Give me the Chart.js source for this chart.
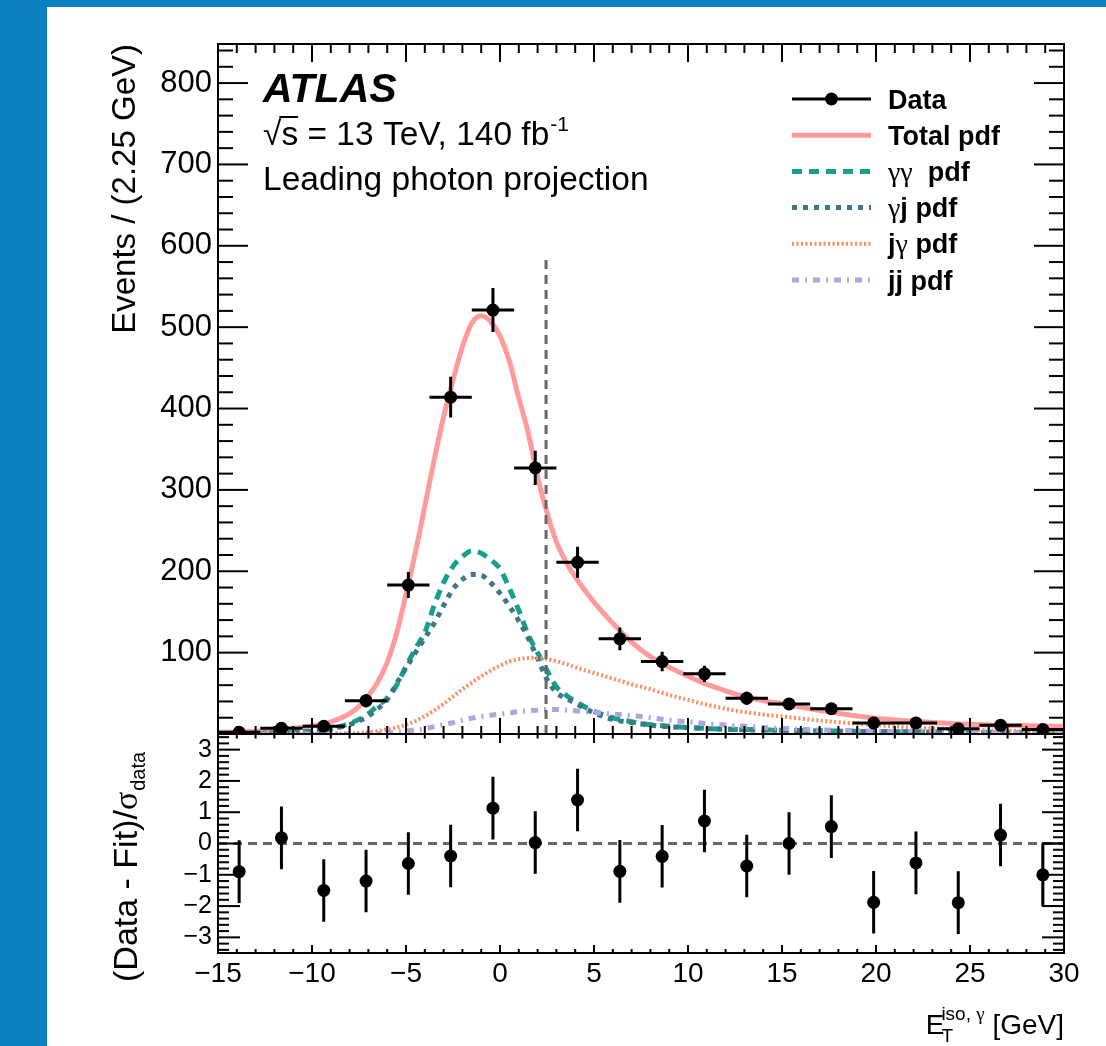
<!DOCTYPE html>
<html>
<head>
<meta charset="utf-8">
<script src="https://cdn.jsdelivr.net/npm/chart.js@4.4.0/dist/chart.umd.min.js"></script>
<style>
  html, body { margin: 0; padding: 0; background: #fff; }
  canvas { display: block; }
</style>
</head>
<body>
<canvas id="chart" width="1106" height="1046"></canvas>
<script>
// Binned data: leading photon isolation, 2.25 GeV bins from -15 to 30
const binCenters = [-13.875, -11.625, -9.375, -7.125, -4.875, -2.625, -0.375, 1.875, 4.125, 6.375,
                    8.625, 10.875, 13.125, 15.375, 17.625, 19.875, 22.125, 24.375, 26.625, 28.875];
const binHalfWidth = 1.125;
const dataEvents = [2, 7, 9.5, 41, 183, 414, 521, 327, 211, 117, 89, 74, 44, 37, 31, 13.6, 13.6, 6.6, 10.7, 5.4];
const dataErrors = [2, 3, 4, 8, 16, 25, 27, 21, 19, 14, 12, 10, 8, 7, 7, 5, 5, 3, 4, 3];

// Pull plot (Data - Fit)/sigma
const pullValues = [-0.9, 0.18, -1.5, -1.2, -0.64, -0.4, 1.13, 0.03, 1.39, -0.89,
                    -0.41, 0.72, -0.72, 0.0, 0.54, -1.88, -0.62, -1.89, 0.27, -1.0];
const pullErrors = [1, 1, 1, 1, 1, 1, 1, 1, 1, 1, 1, 1, 1, 1, 1, 1, 1, 1, 1, 1];

// Fit pdf curves sampled along E_T^iso
const curveX = [-15, -14, -13, -12, -11, -10, -9, -8,
                -7.5, -7, -6.5, -6, -5.5, -5, -4.5, -4, -3.5, -3, -2.5, -2,
                -1.5, -1, -0.5, 0, 0.5, 1, 1.5, 2, 2.5, 3, 3.5, 4,
                5, 6, 7, 8, 9, 10, 11, 12, 13, 14, 15, 16, 17, 18, 19, 20,
                22, 24, 26, 28, 30];
const totalPdf = [2, 2.5, 3.5, 5, 7, 10, 15, 25,
                  34, 47, 64, 88, 124, 172, 223, 280, 337, 390, 435, 476,
                  505, 514, 507, 489, 458, 413, 370, 316, 272, 236, 212, 193,
                  162, 136, 113, 95, 82, 71, 61, 53, 46, 41, 37, 33, 29, 25.5, 22, 19.5,
                  15.8, 13, 11.2, 10.1, 9.4];
const ggPdf = [0.3, 0.5, 0.8, 1.3, 2, 3.5, 6.5, 13,
               18, 25, 35, 44, 60, 83, 105, 125, 158, 186, 206, 218,
               225, 222, 214, 203, 179, 152, 122, 100, 78, 58, 48, 40,
               28, 20, 15, 11.5, 9.5, 8, 6.8, 6, 5.5, 5, 4.6, 4.2, 3.9, 3.6, 3.3, 3,
               2.6, 2.3, 2, 1.8, 1.6];
const gjPdf = [0.3, 0.5, 0.8, 1.3, 2, 3.3, 6, 11.5,
               16, 22, 31, 42, 62, 81, 100, 118, 136, 158, 178, 190,
               196, 195, 186, 173, 157, 139, 118, 93, 67, 51, 44, 38,
               26, 18, 14, 11, 9, 7.8, 6.6, 5.8, 5.3, 4.9, 4.5, 4.1, 3.8, 3.5, 3.2, 2.9,
               2.5, 2.2, 1.9, 1.7, 1.5];
const jgPdf = [0, 0, 0, 0, 0.1, 0.2, 0.4, 0.8,
               1.3, 2, 3.5, 5.5, 8, 11.5, 16, 22, 29, 37, 46, 55,
               63, 71, 78, 84, 89, 92, 93.5, 93.5, 92, 89.5, 86, 82,
               75, 68, 61, 55, 48, 42, 36, 31, 27, 24, 21.5, 19, 16.5, 14.5, 12.5, 11,
               8, 6, 4.5, 3.6, 3];
const jjPdf = [0, 0, 0, 0, 0, 0, 0.05, 0.1,
               0.2, 0.4, 0.7, 1.2, 2.2, 3.5, 5, 6.5, 9, 11.5, 14, 17,
               19.5, 21.5, 23, 24.5, 26, 27.5, 28.5, 29.3, 30, 30, 29.5, 28.5,
               26.5, 24.5, 22.5, 20, 17, 15, 12.8, 11, 9.5, 8, 6.8, 5.8, 5, 4.5, 4, 3.5,
               2.8, 2.2, 1.8, 1.5, 1.2];

const isoCut = 2.45;
const isoCutTop = 590;

// Axis ticks
const xTickValues = [-15, -10, -5, 0, 5, 10, 15, 20, 25, 30];
const mainTickValues = [100, 200, 300, 400, 500, 600, 700, 800];
const pullTickValues = [-3, -2, -1, 0, 1, 2, 3];
const xMin = -15, xMax = 30, mainMax = 848, pullMin = -3.5, pullMax = 3.5;

const FONT = "'Liberation Sans', Arial, Helvetica, sans-serif";
const SERIF = "'Liberation Serif', 'Times New Roman', serif";

const styleTotal = { color: '#ff9b9b', width: 5, dash: [] };
const styleGG = { color: '#14a08b', width: 5, dash: [10, 7] };
const styleGJ = { color: '#3d7788', width: 5, dash: [5, 6] };
const styleJG = { color: '#ff8a5a', width: 4, dash: [2, 2.5] };
const styleJJ = { color: '#b3a2de', width: 5, dash: [7, 6, 2, 6] };
const styleCut = { color: '#666666', width: 3, dash: [9, 6] };

function toPoints(xs, ys) {
  return xs.map((x, i) => ({ x: x, y: ys[i] }));
}

// vertical error bars as separate segments, broken by null points
function verticalBars(xs, ys, es) {
  const out = [];
  xs.forEach((x, i) => {
    out.push({ x: x, y: ys[i] - es[i] }, { x: x, y: ys[i] + es[i] }, { x: x, y: null });
  });
  return out;
}

function horizontalBars(xs, ys, hw) {
  const out = [];
  xs.forEach((x, i) => {
    out.push({ x: x - hw, y: ys[i] }, { x: x + hw, y: ys[i] }, { x: x, y: null });
  });
  return out;
}

function curve(data, st, axis) {
  return {
    data: data,
    yAxisID: axis || 'y',
    borderColor: st.color,
    borderWidth: st.width,
    borderDash: st.dash,
    borderCapStyle: 'butt',
    pointRadius: 0,
    fill: false,
    cubicInterpolationMode: 'monotone',
    spanGaps: false
  };
}

function bars(data, axis) {
  return {
    data: data,
    yAxisID: axis,
    borderColor: '#000',
    borderWidth: 3,
    borderCapStyle: 'butt',
    pointRadius: 0,
    tension: 0,
    spanGaps: false
  };
}

function markers(data, axis) {
  return {
    data: data,
    yAxisID: axis,
    showLine: false,
    pointRadius: 6.5,
    pointHoverRadius: 6.5,
    pointBorderWidth: 0,
    pointBackgroundColor: '#000',
    borderColor: '#000'
  };
}

// listed back to front
const datasets = [
  curve(toPoints(curveX, totalPdf), styleTotal),
  curve(toPoints(curveX, ggPdf), styleGG),
  curve(toPoints(curveX, gjPdf), styleGJ),
  curve(toPoints(curveX, jgPdf), styleJG),
  curve(toPoints(curveX, jjPdf), styleJJ),
  Object.assign(curve([{ x: isoCut, y: 0 }, { x: isoCut, y: isoCutTop }], styleCut), { cubicInterpolationMode: 'default', tension: 0 }),
  bars(verticalBars(binCenters, dataEvents, dataErrors), 'y'),
  bars(horizontalBars(binCenters, dataEvents, binHalfWidth), 'y'),
  markers(toPoints(binCenters, dataEvents), 'y'),
  Object.assign(curve([{ x: xMin, y: 0 }, { x: xMax, y: 0 }], styleCut, 'yr'), { tension: 0 }),
  Object.assign(bars([{ x: xMax, y: 0 }, { x: 28.875, y: 0 }, { x: 28.875, y: -2 }, { x: xMax, y: -2 }], 'yr'), { borderWidth: 2 }),
  bars(verticalBars(binCenters, pullValues, pullErrors), 'yr'),
  markers(toPoints(binCenters, pullValues), 'yr')
];
datasets.forEach((d, i) => { d.order = datasets.length - i; });

function fmt(v) {
  return v < 0 ? '\u2212' + Math.abs(v) : String(v);
}

// text runs: [text, font, dy]
function drawRuns(ctx, x, y, runs) {
  let cx = x;
  runs.forEach(r => {
    ctx.font = r[1];
    ctx.fillText(r[0], cx, y + (r[2] || 0));
    cx += ctx.measureText(r[0]).width;
  });
  return cx;
}

const legendBold = 'bold 27px ' + FONT;
const legendGreek = '28px ' + SERIF;
const legendRows = [
  { style: null, runs: [['Data', legendBold]] },
  { style: styleTotal, runs: [['Total pdf', legendBold]] },
  { style: styleGG, runs: [['\u03b3\u03b3', legendGreek], ['  pdf', legendBold]] },
  { style: styleGJ, runs: [['\u03b3', legendGreek], ['j pdf', legendBold]] },
  { style: styleJG, runs: [['j', legendBold], ['\u03b3', legendGreek], [' pdf', legendBold]] },
  { style: styleJJ, runs: [['jj pdf', legendBold]] }
];

function line(ctx, x1, y1, x2, y2) {
  ctx.beginPath();
  ctx.moveTo(x1, y1);
  ctx.lineTo(x2, y2);
  ctx.stroke();
}

const decor = {
  id: 'decor',
  beforeDraw(chart) {
    const c = chart.ctx;
    c.save();
    c.fillStyle = '#0d80c1';
    c.fillRect(0, 0, chart.width, chart.height);
    c.fillStyle = '#ffffff';
    c.fillRect(47, 7, chart.width - 47, chart.height - 7);
    c.restore();
  },
  afterDraw(chart) {
    const c = chart.ctx;
    const xs = chart.scales.x, ym = chart.scales.y, yr = chart.scales.yr;
    const L = xs.left, R = xs.right;
    c.save();
    c.strokeStyle = '#000';
    c.fillStyle = '#000';
    c.lineWidth = 2;
    c.setLineDash([]);

    // frames
    c.strokeRect(L, ym.top, R - L, ym.bottom - ym.top);
    c.strokeRect(L, yr.top, R - L, yr.bottom - yr.top);

    // x ticks, minor every 1 GeV
    for (let v = xMin; v <= xMax; v++) {
      const p = xs.getPixelForValue(v);
      const major = v % 5 === 0;
      line(c, p, ym.top, p, ym.top + (major ? 18 : 9));
      line(c, p, ym.bottom, p, ym.bottom - (major ? 16 : 8));
      line(c, p, yr.top, p, yr.top + (major ? 9 : 4.5));
      line(c, p, yr.bottom, p, yr.bottom - (major ? 8 : 4));
    }
    // main y ticks, minor every 20
    for (let v = 0; v <= mainMax; v += 20) {
      const p = ym.getPixelForValue(v);
      const len = v % 100 === 0 ? 30 : 15;
      line(c, L, p, L + len, p);
      line(c, R, p, R - len, p);
    }
    // pull y ticks, minor every 0.2
    for (let k = -17; k <= 17; k++) {
      const p = yr.getPixelForValue(k / 5);
      const len = k % 5 === 0 ? 22 : 11;
      line(c, L, p, L + len, p);
      line(c, R, p, R - len, p);
    }

    // ATLAS label block
    const tx = L + 45;
    c.textAlign = 'left';
    c.textBaseline = 'alphabetic';
    c.font = 'italic bold 41px ' + FONT;
    c.fillText('ATLAS', tx, ym.top + 57.5);
    const f33 = '33.5px ' + FONT;
    c.font = f33;
    const sqrtW = c.measureText('\u221a').width;
    const sW = c.measureText('s').width;
    const end = drawRuns(c, tx, ym.top + 101, [['\u221as = 13 TeV, 140 fb', f33]]);
    drawRuns(c, end + 1, ym.top + 101, [['-1', '21px ' + FONT, -14]]);
    line(c, tx + sqrtW - 2, ym.top + 73, tx + sqrtW + sW, ym.top + 73);
    c.font = f33;
    c.fillText('Leading photon projection', tx, ym.top + 145.5);

    // legend
    const lx1 = R - 272, lx2 = R - 193, ltx = R - 176;
    legendRows.forEach((row, i) => {
      const y = ym.top + 55 + i * 36.2;
      if (row.style) {
        c.strokeStyle = row.style.color;
        c.lineWidth = row.style.width;
        c.setLineDash(row.style.dash);
        c.lineCap = 'butt';
        line(c, lx1, y, lx2, y);
        c.setLineDash([]);
      } else {
        c.strokeStyle = '#000';
        c.lineWidth = 3;
        line(c, lx1, y, lx2, y);
        c.beginPath();
        c.arc((lx1 + lx2) / 2, y, 6.5, 0, Math.PI * 2);
        c.fill();
      }
      c.fillStyle = '#000';
      drawRuns(c, ltx, y + 9.5, row.runs);
    });

    // y axis titles
    c.save();
    c.translate(135, ym.top);
    c.rotate(-Math.PI / 2);
    c.textAlign = 'right';
    c.font = '33px ' + FONT;
    c.fillText('Events / (2.25 GeV)', 0, 0);
    c.restore();

    c.save();
    c.translate(137, 982);
    c.rotate(-Math.PI / 2);
    c.textAlign = 'left';
    const sigEnd = drawRuns(c, 0, 0, [['(Data - Fit)/', '34px ' + FONT], ['\u03c3', '34px ' + SERIF]]);
    drawRuns(c, sigEnd + 1, 8, [['data', '20px ' + FONT]]);
    c.restore();

    // x axis title, right aligned to the frame
    const fMain = '28px ' + FONT, fSmall = '19px ' + FONT, fGreek = '19px ' + SERIF;
    c.font = fMain;
    const wE = c.measureText('E').width;
    const wGeV = c.measureText(' [GeV]').width;
    c.font = fSmall;
    const wIso = c.measureText('iso, ').width;
    c.font = fGreek;
    const wG = c.measureText('\u03b3').width;
    const total = wE - 3 + wIso + wG + wGeV;
    const bx = R - total, by = 1034;
    drawRuns(c, bx, by, [['E', fMain]]);
    drawRuns(c, bx + wE - 3, by, [['T', fSmall, 8]]);
    const supEnd = drawRuns(c, bx + wE - 3, by, [['iso, ', fSmall, -14], ['\u03b3', fGreek, -14]]);
    drawRuns(c, supEnd, by, [[' [GeV]', fMain]]);
    c.restore();
  }
};

const tickFont = size => ({ family: FONT, size: size });

new Chart(document.getElementById('chart'), {
  type: 'line',
  data: { datasets: datasets },
  options: {
    responsive: false,
    animation: false,
    devicePixelRatio: 1,
    events: [],
    layout: { padding: { left: 0, right: 42, top: 44, bottom: 0 } },
    plugins: { legend: { display: false }, tooltip: { enabled: false } },
    scales: {
      x: {
        type: 'linear', min: xMin, max: xMax, position: 'bottom',
        grid: { display: false, drawTicks: false },
        border: { display: false },
        ticks: { font: tickFont(28), color: '#000', padding: 4, maxRotation: 0, autoSkip: false, callback: fmt },
        afterBuildTicks: s => { s.ticks = xTickValues.map(v => ({ value: v })); },
        afterFit: s => { s.height = 93; }
      },
      // main panel on top of the stack
      y: {
        type: 'linear', min: 0, max: mainMax, position: 'left',
        stack: 'panel', stackWeight: 690, weight: 1,
        grid: { display: false, drawTicks: false },
        border: { display: false },
        ticks: { font: tickFont(31), color: '#000', padding: 6, autoSkip: false, callback: fmt },
        afterBuildTicks: s => { s.ticks = mainTickValues.map(v => ({ value: v })); },
        afterFit: s => { s.width = 218; }
      },
      yr: {
        type: 'linear', min: pullMin, max: pullMax, position: 'left',
        stack: 'panel', stackWeight: 219, weight: 0,
        grid: { display: false, drawTicks: false },
        border: { display: false },
        ticks: { font: tickFont(25), color: '#000', padding: 6, autoSkip: false, callback: fmt },
        afterBuildTicks: s => { s.ticks = pullTickValues.map(v => ({ value: v })); },
        afterFit: s => { s.width = 218; }
      }
    }
  },
  plugins: [decor]
});
</script>
</body>
</html>
